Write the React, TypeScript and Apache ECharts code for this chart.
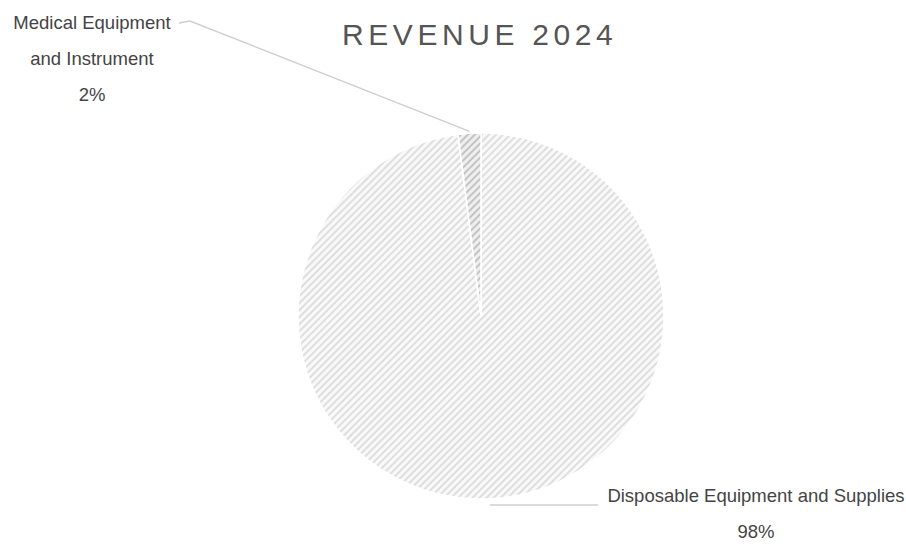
import React, { useEffect, useRef } from "react";
import * as echarts from "echarts";

const titleText = "REVENUE 2024";
const categories = ["Disposable Equipment and Supplies", "Medical Equipment and Instrument"];
const labelNames = ["Disposable Equipment and Supplies", "Medical Equipment\nand Instrument"];
const values = [98, 2];

export default function App() {
  const ref = useRef<HTMLDivElement>(null);

  useEffect(() => {
    if (!ref.current) return;
    const chart = echarts.init(ref.current, null, { renderer: "svg" });
    const decalBase = {
      symbol: "rect",
      dashArrayX: [1, 0],
      dashArrayY: [1.1, 2.4],
      rotation: -Math.PI / 4,
    };
    chart.setOption({
      animation: false,
      backgroundColor: "#ffffff",
      title: {
        text: titleText,
        left: 337,
        top: 14,
        textStyle: {
          fontFamily: "Liberation Sans, Arial, sans-serif",
          fontSize: 30,
          fontWeight: "normal",
          color: "#555555",
        },
      },
      series: [
        {
          type: "pie",
          center: [481, 316],
          radius: 183,
          startAngle: 90,
          clockwise: true,
          avoidLabelOverlap: false,
          data: categories.map((name, i) => ({
            name,
            value: values[i],
            itemStyle: {
              color: i === 0 ? "#f9f9f9" : "#efefef",
              borderColor: "#ffffff",
              borderWidth: 1.5,
              decal: { ...decalBase, color: i === 0 ? "#dedede" : "#c4c4c4" },
            },
          })),
          label: {
            show: true,
            position: "outside",
            formatter: (p: any) => `${labelNames[p.dataIndex]}\n${Math.round(p.percent)}%`,
            fontFamily: "Liberation Sans, Arial, sans-serif",
            fontSize: 18.5,
            lineHeight: 36,
            color: "#444444",
            align: "center",
          },
          labelLine: {
            show: true,
            length: 20,
            length2: 20,
            lineStyle: { color: "#cfcfcf", width: 1.5 },
          },
          labelLayout: (params: any) => {
            const p0 = params.labelLinePoints ? params.labelLinePoints[0] : [481, 132];
            if (params.dataIndex === 0) {
              return {
                x: 756,
                y: 513,
                align: "center",
                verticalAlign: "middle",
                labelLinePoints: [[490, 505], [520, 505], [598, 505]],
              };
            }
            return {
              x: 92,
              y: 58,
              align: "center",
              verticalAlign: "middle",
              labelLinePoints: [[p0[0], p0[1] - 2], [190, 21], [179, 23]],
            };
          },
          emphasis: { disabled: true },
        },
      ],
    });
    const texts = ref.current.querySelectorAll("text");
    texts.forEach((t) => {
      if (t.textContent === titleText) {
        t.setAttribute("letter-spacing", "4.6");
      }
    });
    return () => chart.dispose();
  }, []);

  return (
    <div
      ref={ref}
      style={{ position: "absolute", left: 0, top: 0, width: 906, height: 545 }}
    />
  );
}
